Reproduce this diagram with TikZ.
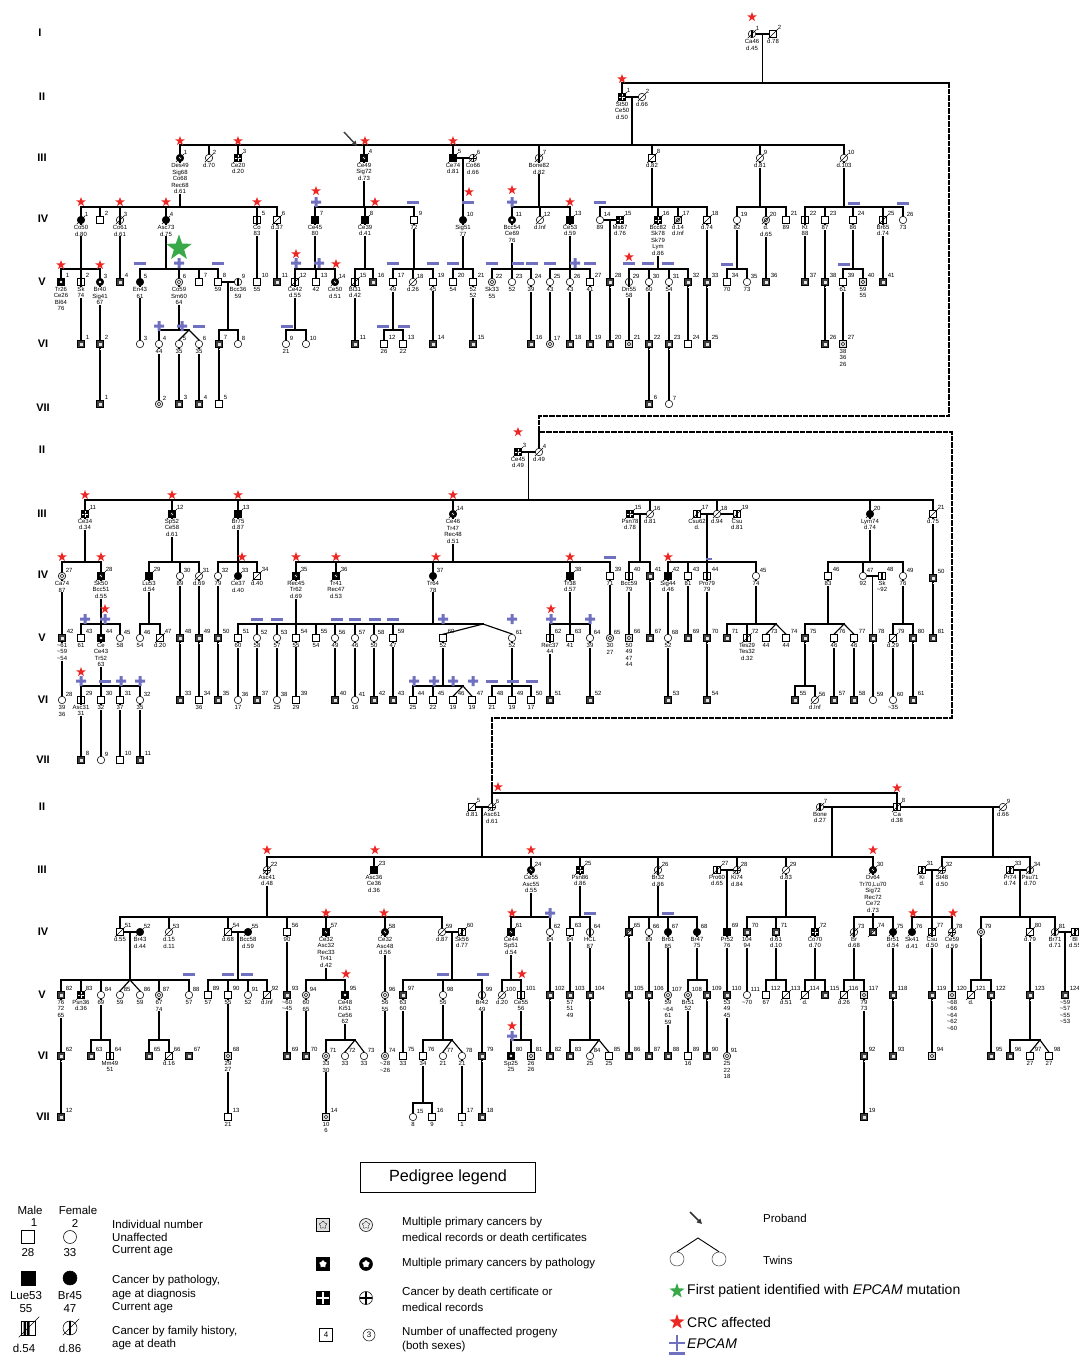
\documentclass[tikz,border=0pt]{standalone}
\usepackage{fontspec}
\setmainfont{Liberation Sans}
\usetikzlibrary{shapes.geometric,calc,arrows.meta}
\pgfdeclarelayer{bg}
\pgfsetlayers{bg,main}
\definecolor{crcred}{RGB}{236,40,36}
\definecolor{epc}{RGB}{112,112,192}
\definecolor{fgreen}{RGB}{56,168,72}
\newcommand\lf{\fontsize{6}{6.6}\selectfont}
\newcommand\ap{\textasciitilde}
\newcounter{mk}
\tikzset{
  sym/.style={draw, line width=0.55pt, inner sep=0pt, fill=white},
  qm/.style={sym, rectangle, minimum size=7pt},
  qf/.style={sym, circle, minimum size=7.5pt},
  qM/.style={qm, fill=black},
  qF/.style={qf, fill=black},
  stripe/.style={path picture={\fill[black] ([xshift=-1.3pt]path picture bounding box.north) rectangle ([xshift=1.3pt]path picture bounding box.south);}},
  qms/.style={qm, stripe},
  qfs/.style={qf, stripe},
  qmg/.style={qM, path picture={\draw[white, line width=0.7pt] (path picture bounding box.north) -- (path picture bounding box.south) (path picture bounding box.west) -- (path picture bounding box.east);}},
  qfg/.style={qf, path picture={\draw[black, line width=1pt] (path picture bounding box.north) -- (path picture bounding box.south) (path picture bounding box.west) -- (path picture bounding box.east);}},
  wdot/.style={path picture={\fill[white] (path picture bounding box.center) circle (1.4pt);}},
  qmp/.style={qM, wdot},
  qfp/.style={qF, wdot},
  rdot/.style={path picture={\draw[black, line width=0.35pt] (path picture bounding box.center) circle (1.8pt);}},
  qmr/.style={qm, fill=gray!30, rdot},
  qfr/.style={qf, fill=gray!20, rdot},
  qmn/.style={qm, fill=black!75, path picture={\fill[gray!20] ([shift={(-1.5pt,-1.5pt)}]path picture bounding box.center) rectangle ([shift={(1.5pt,1.5pt)}]path picture bounding box.center);}},
  dd/.style={append after command={(\tikzlastnode.south west) edge[line width=0.4pt, shorten <=-1.8pt, shorten >=-1.8pt] (\tikzlastnode.north east)}},
  num/.style={font=\lf, inner sep=0.2pt, anchor=west},
  lab/.style={font=\lf, align=center, inner sep=0.3pt, anchor=north, fill=white},
  crc/.style={star, star points=5, star point ratio=2.5, fill=crcred, inner sep=0pt, minimum size=10pt},
  gen/.style={font=\fontsize{11}{12}\selectfont\bfseries},
  dsh/.style={line width=1.15pt, dash pattern=on 4pt off 2.5pt},
  lt/.style={anchor=west, inner sep=0pt, font=\fontsize{11.5}{13}\selectfont},
  lc/.style={inner sep=0pt, font=\fontsize{11.5}{13}\selectfont},
}
\newcommand\pdI[6]{%
  \node[#4] (#1) at (#2,#3) {};%
  \node[num] (#1n) at ([xshift=0.6pt,yshift=2.6pt]#1.north east) {#5};%
  \node[lab] (#1l) at ([yshift=-0.7pt]#1.south) {#6};%
}
\newcommand\pdV[2]{\draw (#1.center) -- (#1.center |- 0,#2);}
\newcommand\pdN[2]{\draw (#1.center) -- (#2.center);}
\newcommand\pdS[4]{\draw (#2.center |- 0,#1) -- (#3.center |- 0,#1);\foreach \k in {#4}{\draw (\k.center) -- (\k.center |- 0,#1);}}
\newcommand\pdC[3]{\path ($(#1.center)!.5!(#2.center)$) coordinate (tmpc);\draw (#1.center) -- (#2.center) (tmpc) -- (tmpc |- 0,#3);}
\newcommand\pdR[2]{\stepcounter{mk}\node[crc] (mk\themk) at (#1,#2) {};}
\newcommand\pdP[2]{\fill[epc] ([xshift=-5pt,yshift=-1.5pt]#1,#2) rectangle ([xshift=5pt,yshift=1.5pt]#1,#2) ([xshift=-1.5pt,yshift=-5pt]#1,#2) rectangle ([xshift=1.5pt,yshift=5pt]#1,#2);}
\newcommand\pdM[2]{\fill[epc] ([xshift=-6pt,yshift=-1.5pt]#1,#2) rectangle ([xshift=6pt,yshift=1.5pt]#1,#2);}
\begin{document}
\begin{tikzpicture}[x=1pt,y=-1pt]
\useasboundingbox (0,0) rectangle (1079,1355);
% generation labels
\node[gen] (g1a) at (40,33) {I};
\node[gen] (g1b) at (42,97) {II};
\node[gen] (g1c) at (42,158) {III};
\node[gen] (g1d) at (43,219) {IV};
\node[gen] (g1e) at (42,282) {V};
\node[gen] (g1f) at (43,344) {VI};
\node[gen] (g1g) at (43,408) {VII};
\node[gen] (g2b) at (42,450) {II};
\node[gen] (g2c) at (42,514) {III};
\node[gen] (g2d) at (43,575) {IV};
\node[gen] (g2e) at (42,638) {V};
\node[gen] (g2f) at (43,700) {VI};
\node[gen] (g2g) at (43,760) {VII};
\node[gen] (g3b) at (42,807) {II};
\node[gen] (g3c) at (42,870) {III};
\node[gen] (g3d) at (43,932) {IV};
\node[gen] (g3e) at (42,995) {V};
\node[gen] (g3f) at (43,1056) {VI};
\node[gen] (g3g) at (43,1117) {VII};
% ===== Section 1 =====
\pdI{a1-1}{752}{34}{qfs,dd}{1}{Ca46\\d.45}
\pdI{a1-2}{773}{34}{qm,dd}{2}{d.78}
\pdI{a2-1}{622}{97}{qmg,dd}{1}{St50\\Ce50\\d.50}
\pdI{a2-2}{642}{97}{qf,dd}{2}{d.66}
\pdI{a3-1}{180}{158}{qfp,dd}{1}{Des49\\Sig68\\Co68\\Rec68\\d.61}
\pdI{a3-2}{209}{158}{qf,dd}{2}{d.70}
\pdI{a3-3}{238}{158}{qmg,dd}{3}{Ce20\\d.20}
\pdI{a3-4}{364}{158}{qmp,dd}{4}{Ce49\\Sig72\\d.73}
\pdI{a3-5}{453}{158}{qM,dd}{5}{Ce74\\d.81}
\pdI{a3-6}{473}{158}{qfg,dd}{6}{Co66\\d.66}
\pdI{a3-7}{539}{158}{qfs,dd}{7}{Bone82\\d.82}
\pdI{a3-8}{652}{158}{qm,dd}{8}{d.82}
\pdI{a3-9}{760}{158}{qf,dd}{9}{d.81}
\pdI{a3-10}{844}{158}{qf,dd}{10}{d.103}
\pdI{a4-1}{81}{220}{qF,dd}{1}{Co50\\d.80}
\pdI{a4-2}{100}{220}{qm}{2}{}
\pdI{a4-3}{120}{220}{qfs,dd}{3}{Co61\\d.61}
\pdI{a4-4}{166}{220}{qF,dd}{4}{Asc73\\d.75}
\pdI{a4-5}{257}{220}{qms}{5}{Co\\83}
\pdI{a4-6}{277}{220}{qm,dd}{6}{d.37}
\pdI{a4-7}{315}{220}{qM}{7}{Ce45\\80}
\pdI{a4-8}{365}{220}{qM,dd}{8}{Ce39\\d.41}
\pdI{a4-9}{414}{220}{qm}{9}{72}
\pdI{a4-10}{463}{220}{qF}{10}{Sig51\\77}
\pdI{a4-11}{512}{220}{qfp}{11}{Bcc54\\Ce69\\76}
\pdI{a4-12}{540}{220}{qf,dd}{12}{d.Inf}
\pdI{a4-13}{570}{220}{qM,dd}{13}{Ce53\\d.59}
\pdI{a4-14}{600}{220}{qf}{14}{89}
\pdI{a4-15}{620}{220}{qmg,dd}{15}{Ms67\\d.76}
\pdI{a4-16}{658}{220}{qmg,dd}{16}{Bcc82\\Sk78\\Sk79\\Lym\\d.86}
\pdI{a4-17}{678}{220}{qmr,dd}{17}{d.14\\d.Inf}
\pdI{a4-18}{707}{220}{qm,dd}{18}{d.74}
\pdI{a4-19}{737}{220}{qf}{19}{82}
\pdI{a4-20}{766}{220}{qfr,dd}{20}{d.\\d.65}
\pdI{a4-21}{786}{220}{qm}{21}{89}
\pdI{a4-22}{805}{220}{qms}{22}{Kt\\88}
\pdI{a4-23}{825}{220}{qm}{23}{87}
\pdI{a4-24}{853}{220}{qm}{24}{86}
\pdI{a4-25}{883}{220}{qms,dd}{25}{Br65\\d.74}
\pdI{a4-26}{903}{220}{qf}{26}{73}
\pdI{a5-1}{61}{282}{qmp}{1}{Tr26\\Ce26\\Bl64\\76}
\pdI{a5-2}{81}{282}{qms}{2}{Sk\\74}
\pdI{a5-3}{100}{282}{qfp}{3}{Br40\\Sig41\\67}
\pdI{a5-4}{120}{282}{qmn}{4}{}
\pdI{a5-5}{140}{282}{qF}{5}{En43\\61}
\pdI{a5-6}{179}{282}{qfr}{6}{Co59\\Sm60\\64}
\pdI{a5-7}{199}{282}{qm}{7}{}
\pdI{a5-8}{218}{282}{qm}{8}{59}
\pdI{a5-9}{238}{282}{qfs}{9}{Bcc36\\59}
\pdI{a5-10}{257}{282}{qm}{10}{55}
\pdI{a5-11}{277}{282}{qmn}{11}{}
\pdI{a5-12}{295}{282}{qms,dd}{12}{Ce42\\d.55}
\pdI{a5-13}{316}{282}{qm}{13}{42}
\pdI{a5-14}{335}{282}{qfp,dd}{14}{Ce50\\d.51}
\pdI{a5-15}{355}{282}{qms,dd}{15}{Bl31\\d.42}
\pdI{a5-16}{373}{282}{qmn}{16}{}
\pdI{a5-17}{393}{282}{qm}{17}{49}
\pdI{a5-18}{413}{282}{qf,dd}{18}{d.26}
\pdI{a5-19}{433}{282}{qm}{19}{45}
\pdI{a5-20}{453}{282}{qm}{20}{54}
\pdI{a5-21}{473}{282}{qm}{21}{52\\52}
\pdI{a5-22}{492}{282}{qfr}{22}{Sk33\\55}
\pdI{a5-23}{512}{282}{qf}{23}{52}
\pdI{a5-24}{531}{282}{qf}{24}{39}
\pdI{a5-25}{550}{282}{qf}{25}{43}
\pdI{a5-26}{570}{282}{qf}{26}{43}
\pdI{a5-27}{590}{282}{qm}{27}{41}
\pdI{a5-28}{610}{282}{qmn}{28}{}
\pdI{a5-29}{629}{282}{qfs}{29}{Dn55\\58}
\pdI{a5-30}{649}{282}{qf}{30}{60}
\pdI{a5-31}{669}{282}{qf}{31}{54}
\pdI{a5-32}{688}{282}{qmn}{32}{}
\pdI{a5-33}{707}{282}{qmn}{33}{}
\pdI{a5-34}{727}{282}{qm}{34}{70}
\pdI{a5-35}{747}{282}{qf}{35}{73}
\pdI{a5-36}{766}{282}{qmn}{36}{}
\pdI{a5-37}{805}{282}{qmn}{37}{}
\pdI{a5-38}{825}{282}{qmn}{38}{}
\pdI{a5-39}{843}{282}{qm}{39}{61}
\pdI{a5-40}{863}{282}{qmr}{40}{59\\55}
\pdI{a5-41}{883}{282}{qmn}{41}{}
\pdI{a6-1}{81}{344}{qmn}{1}{}
\pdI{a6-2}{100}{344}{qmn}{2}{}
\pdI{a6-3}{140}{344}{qf}{3}{}
\pdI{a6-4}{159}{344}{qf}{4}{44}
\pdI{a6-5}{179}{344}{qf}{5}{35}
\pdI{a6-6}{199}{344}{qf}{6}{35}
\pdI{a6-7}{219}{344}{qmn}{7}{}
\pdI{a6-8}{238}{344}{qf}{8}{}
\pdI{a6-9}{286}{344}{qf}{9}{21}
\pdI{a6-10}{306}{344}{qf}{10}{}
\pdI{a6-11}{355}{344}{qmn}{11}{}
\pdI{a6-12}{384}{344}{qm}{12}{26}
\pdI{a6-13}{403}{344}{qm}{13}{22}
\pdI{a6-14}{433}{344}{qmn}{14}{}
\pdI{a6-15}{473}{344}{qmn}{15}{}
\pdI{a6-16}{531}{344}{qmn}{16}{}
\pdI{a6-17}{550}{344}{qfr}{17}{}
\pdI{a6-18}{570}{344}{qmn}{18}{}
\pdI{a6-19}{590}{344}{qmn}{19}{}
\pdI{a6-20}{610}{344}{qmn}{20}{}
\pdI{a6-21}{629}{344}{qmr}{21}{}
\pdI{a6-22}{649}{344}{qmn}{22}{}
\pdI{a6-23}{669}{344}{qmn}{23}{}
\pdI{a6-24}{688}{344}{qm}{24}{}
\pdI{a6-25}{707}{344}{qmn}{25}{}
\pdI{a6-26}{825}{344}{qmn}{26}{}
\pdI{a6-27}{843}{344}{qmr}{27}{38\\36\\26}
\pdI{a7-1}{100}{404}{qmn}{1}{}
\pdI{a7-2}{159}{404}{qfr}{2}{}
\pdI{a7-3}{179}{404}{qmn}{3}{}
\pdI{a7-4}{199}{404}{qmn}{4}{}
\pdI{a7-5}{219}{404}{qm}{5}{}
\pdI{a7-6}{649}{404}{qmn}{6}{}
\pdI{a7-7}{669}{404}{qf}{7}{}
% ===== Section 2 =====
\pdI{b2-3}{518}{452}{qmg,dd}{3}{Ce45\\d.49}
\pdI{b2-4}{539}{452}{qf,dd}{4}{d.49}
\pdI{b3-11}{85}{514}{qmg,dd}{11}{Ce34\\d.34}
\pdI{b3-12}{172}{514}{qmp,dd}{12}{Sp52\\Ce58\\d.61}
\pdI{b3-13}{238}{514}{qM,dd}{13}{Br75\\d.87}
\pdI{b3-14}{453}{514}{qfp,dd}{14}{Ce46\\Tr47\\Rec48\\d.51}
\pdI{b3-15}{630}{514}{qmg,dd}{15}{Psn78\\d.78}
\pdI{b3-16}{650}{514}{qf,dd}{16}{d.81}
\pdI{b3-17}{697}{514}{qms,dd}{17}{Csu62\\d.}
\pdI{b3-18}{717}{514}{qf,dd}{18}{d.94}
\pdI{b3-19}{737}{514}{qms,dd}{19}{Csu\\d.81}
\pdI{b3-20}{870}{514}{qF,dd}{20}{Lym74\\d.74}
\pdI{b3-21}{933}{514}{qm,dd}{21}{d.75}
\pdI{b4-27}{62}{576}{qfr}{27}{Ca74\\87}
\pdI{b4-28}{101}{576}{qmp,dd}{28}{Sk50\\Bcc51\\d.55}
\pdI{b4-29}{149}{576}{qM,dd}{29}{Lu53\\d.54}
\pdI{b4-30}{180}{576}{qf}{30}{89}
\pdI{b4-31}{199}{576}{qf,dd}{31}{d.69}
\pdI{b4-32}{218}{576}{qf}{32}{79}
\pdI{b4-33}{238}{576}{qF,dd}{33}{Ce37\\d.40}
\pdI{b4-34}{257}{576}{qm,dd}{34}{d.40}
\pdI{b4-35}{296}{576}{qmp,dd}{35}{Rec45\\Tr62\\d.69}
\pdI{b4-36}{336}{576}{qmp,dd}{36}{Tr41\\Rec47\\d.53}
\pdI{b4-37}{433}{576}{qF}{37}{Tr64\\78}
\pdI{b4-38}{570}{576}{qM,dd}{38}{Tr38\\d.57}
\pdI{b4-39}{610}{576}{qm}{39}{71}
\pdI{b4-40}{629}{576}{qms}{40}{Bcc59\\79}
\pdI{b4-41}{650}{576}{qmn}{41}{}
\pdI{b4-42}{668}{576}{qM,dd}{42}{Sig44\\d.46}
\pdI{b4-43}{688}{576}{qm}{43}{81}
\pdI{b4-44}{707}{576}{qms}{44}{Pro79\\79}
\pdI{b4-45}{756}{576}{qf}{45}{74}
\pdI{b4-46}{828}{576}{qm}{46}{83}
\pdI{b4-47}{863}{576}{qf}{47}{92}
\pdI{b4-48}{882}{576}{qms}{48}{Sk\\\ap92}
\pdI{b4-49}{903}{576}{qf}{49}{76}
\pdI{b4-50}{933}{578}{qmn}{50}{}
\pdI{b5-42}{62}{638}{qmn}{42}{\ap61\\\ap59\\\ap54}
\pdI{b5-43}{81}{638}{qm}{43}{61}
\pdI{b5-44}{101}{638}{qmp}{44}{Ce\\Ce43\\Tr52\\63}
\pdI{b5-45}{120}{638}{qf}{45}{58}
\pdI{b5-46}{140}{638}{qf}{46}{54}
\pdI{b5-47}{160}{638}{qm,dd}{47}{d.20}
\pdI{b5-48}{180}{638}{qmn}{48}{}
\pdI{b5-49}{199}{638}{qmn}{49}{}
\pdI{b5-50}{218}{638}{qmn}{50}{}
\pdI{b5-51}{238}{638}{qm}{51}{60}
\pdI{b5-52}{257}{638}{qf}{52}{58}
\pdI{b5-53}{277}{638}{qf}{53}{57}
\pdI{b5-54}{296}{638}{qm}{54}{55}
\pdI{b5-55}{316}{638}{qm}{55}{54}
\pdI{b5-56}{335}{638}{qf}{56}{49}
\pdI{b5-57}{355}{638}{qf}{57}{46}
\pdI{b5-58}{374}{638}{qf}{58}{50}
\pdI{b5-59}{393}{638}{qm}{59}{47}
\pdI{b5-60}{443}{638}{qm}{60}{52}
\pdI{b5-61}{512}{638}{qf}{61}{52}
\pdI{b5-62}{550}{638}{qms}{62}{Rec37\\44}
\pdI{b5-63}{570}{638}{qm}{63}{41}
\pdI{b5-64}{590}{638}{qf}{64}{39}
\pdI{b5-65}{610}{638}{qfr}{65}{30\\27}
\pdI{b5-66}{629}{638}{qmr}{66}{50\\49\\47\\44}
\pdI{b5-67}{650}{638}{qmn}{67}{}
\pdI{b5-68}{668}{638}{qf}{68}{52}
\pdI{b5-69}{688}{638}{qmn}{69}{}
\pdI{b5-70}{707}{638}{qmn}{70}{}
\pdI{b5-71}{727}{638}{qmn}{71}{}
\pdI{b5-72}{747}{638}{qms,dd}{72}{Tes29\\Tes32\\d.32}
\pdI{b5-73}{766}{638}{qm}{73}{44}
\pdI{b5-74}{786}{638}{qm}{74}{44}
\pdI{b5-75}{805}{638}{qmn}{75}{}
\pdI{b5-76}{834}{638}{qm}{76}{46}
\pdI{b5-77}{854}{638}{qm}{77}{46}
\pdI{b5-78}{873}{638}{qmn}{78}{}
\pdI{b5-79}{893}{638}{qm,dd}{79}{d.29}
\pdI{b5-80}{913}{638}{qmn}{80}{}
\pdI{b5-81}{933}{638}{qmn}{81}{}
\pdI{b6-28}{62}{700}{qf}{28}{39\\36}
\pdI{b6-29}{81}{700}{qms}{29}{Asc31\\31}
\pdI{b6-30}{101}{700}{qm}{30}{32}
\pdI{b6-31}{120}{700}{qm}{31}{37}
\pdI{b6-32}{140}{700}{qf}{32}{35}
\pdI{b6-33}{180}{700}{qmn}{33}{}
\pdI{b6-34}{199}{700}{qm}{34}{36}
\pdI{b6-35}{218}{700}{qmn}{35}{}
\pdI{b6-36}{238}{700}{qf}{36}{17}
\pdI{b6-37}{257}{700}{qmn}{37}{}
\pdI{b6-38}{277}{700}{qf}{38}{25}
\pdI{b6-39}{296}{700}{qm}{39}{29}
\pdI{b6-40}{335}{700}{qmn}{40}{}
\pdI{b6-41}{355}{700}{qf}{41}{16}
\pdI{b6-42}{374}{700}{qmn}{42}{}
\pdI{b6-43}{393}{700}{qmn}{43}{}
\pdI{b6-44}{413}{700}{qm}{44}{25}
\pdI{b6-45}{433}{700}{qm}{45}{22}
\pdI{b6-46}{453}{700}{qm}{46}{19}
\pdI{b6-47}{472}{700}{qm}{47}{19}
\pdI{b6-48}{492}{700}{qm}{48}{21}
\pdI{b6-49}{512}{700}{qm}{49}{19}
\pdI{b6-50}{531}{700}{qm}{50}{17}
\pdI{b6-51}{550}{700}{qmn}{51}{}
\pdI{b6-52}{590}{700}{qmn}{52}{}
\pdI{b6-53}{668}{700}{qmn}{53}{}
\pdI{b6-54}{707}{700}{qmn}{54}{}
\pdI{b6-55}{795}{700}{qmn}{55}{}
\pdI{b6-56}{815}{700}{qf,dd}{56}{d.Inf}
\pdI{b6-57}{834}{700}{qmn}{57}{}
\pdI{b6-58}{854}{700}{qmn}{58}{}
\pdI{b6-59}{873}{700}{qf}{59}{}
\pdI{b6-60}{893}{700}{qf}{60}{\ap35}
\pdI{b6-61}{913}{700}{qmn}{61}{}
\pdI{b7-8}{81}{760}{qmn}{8}{}
\pdI{b7-9}{101}{760}{qf}{9}{}
\pdI{b7-10}{120}{760}{qm}{10}{}
\pdI{b7-11}{140}{760}{qmn}{11}{}
% ===== Section 3 =====
\pdI{c2-5}{472}{807}{qm,dd}{5}{d.81}
\pdI{c2-6}{492}{807}{qfg,dd}{6}{Asc61\\d.61}
\pdI{c2-7}{820}{807}{qfs,dd}{7}{Bone\\d.27}
\pdI{c2-8}{897}{807}{qms,dd}{8}{Ca\\d.38}
\pdI{c2-9}{1003}{807}{qf,dd}{9}{d.66}
\pdI{c3-22}{267}{870}{qfg,dd}{22}{Asc41\\d.48}
\pdI{c3-23}{374}{870}{qM,dd}{23}{Asc36\\Ce36\\d.36}
\pdI{c3-24}{531}{870}{qfp,dd}{24}{Ce55\\Asc55\\d.55}
\pdI{c3-25}{580}{870}{qmg,dd}{25}{Psn86\\d.86}
\pdI{c3-26}{658}{870}{qfs,dd}{26}{Br32\\d.86}
\pdI{c3-27}{717}{870}{qms,dd}{27}{Pro60\\d.65}
\pdI{c3-28}{737}{870}{qfg,dd}{28}{Ki74\\d.84}
\pdI{c3-29}{786}{870}{qf,dd}{29}{d.83}
\pdI{c3-30}{873}{870}{qfp,dd}{30}{Dv64\\Tr70,Lu70\\Sig72\\Rec72\\Ce72\\d.73}
\pdI{c3-31}{922}{870}{qms,dd}{31}{Ki\\d.}
\pdI{c3-32}{942}{870}{qfg,dd}{32}{St48\\d.50}
\pdI{c3-33}{1010}{870}{qms,dd}{33}{Pr74\\d.74}
\pdI{c3-34}{1030}{870}{qfs,dd}{34}{Psu71\\d.70}
\pdI{c4-51}{120}{932}{qm,dd}{51}{d.55}
\pdI{c4-52}{140}{932}{qF,dd}{52}{Br43\\d.44}
\pdI{c4-53}{169}{932}{qf,dd}{53}{d.15\\d.11}
\pdI{c4-54}{228}{932}{qm,dd}{54}{d.68}
\pdI{c4-55}{248}{932}{qF,dd}{55}{Bcc58\\d.59}
\pdI{c4-56}{287}{932}{qm}{56}{90}
\pdI{c4-57}{326}{932}{qmp,dd}{57}{Ce32\\Asc32\\Rec33\\Tr41\\d.42}
\pdI{c4-58}{385}{932}{qfp,dd}{58}{Ce32\\Asc48\\d.56}
\pdI{c4-59}{442}{932}{qf,dd}{59}{d.87}
\pdI{c4-60}{462}{932}{qms,dd}{60}{Sk56\\d.77}
\pdI{c4-61}{511}{932}{qmp,dd}{61}{Ce44\\Sp51\\d.54}
\pdI{c4-62}{550}{932}{qf}{62}{84}
\pdI{c4-63}{570}{932}{qm}{63}{84}
\pdI{c4-64}{590}{932}{qfs}{64}{HCL\\87}
\pdI{c4-65}{629}{932}{qmn,dd}{65}{}
\pdI{c4-66}{649}{932}{qf}{66}{89}
\pdI{c4-67}{668}{932}{qF}{67}{Br61\\85}
\pdI{c4-68}{697}{932}{qF}{68}{Br47\\75}
\pdI{c4-69}{727}{932}{qM}{69}{Pr52\\76}
\pdI{c4-70}{747}{932}{qmn}{70}{104\\94}
\pdI{c4-71}{776}{932}{qmn}{71}{d.61\\d.10}
\pdI{c4-72}{815}{932}{qmg,dd}{72}{Co70\\d.70}
\pdI{c4-73}{854}{932}{qfs,dd}{73}{Br\\d.68}
\pdI{c4-74}{873}{932}{qmn,dd}{74}{}
\pdI{c4-75}{893}{932}{qF,dd}{75}{Br51\\d.54}
\pdI{c4-76}{912}{932}{qF,dd}{76}{Sk41\\d.41}
\pdI{c4-77}{932}{932}{qms,dd}{77}{Csu\\d.50}
\pdI{c4-78}{952}{932}{qfg,dd}{78}{Ce59\\d.59}
\pdI{c4-79}{981}{932}{qfr}{79}{}
\pdI{c4-80}{1030}{932}{qm,dd}{80}{d.79}
\pdI{c4-81}{1055}{932}{qfs,dd}{81}{Br71\\d.71}
\pdI{c4-82}{1075}{932}{qms,dd}{82}{Bl\\d.55}
\pdI{c5-82}{61}{995}{qmn}{82}{76\\72\\65}
\pdI{c5-83}{81}{995}{qmg,dd}{83}{Psn36\\d.36}
\pdI{c5-84}{101}{995}{qf}{84}{69}
\pdI{c5-85}{120}{995}{qf}{85}{59}
\pdI{c5-86}{140}{995}{qf}{86}{59}
\pdI{c5-87}{159}{995}{qfr}{87}{67\\74}
\pdI{c5-88}{189}{995}{qf}{88}{57}
\pdI{c5-89}{208}{995}{qm}{89}{57}
\pdI{c5-90}{228}{995}{qm}{90}{55}
\pdI{c5-91}{248}{995}{qf}{91}{52}
\pdI{c5-92}{267}{995}{qm,dd}{92}{d.Inf}
\pdI{c5-93}{287}{995}{qmn}{93}{\ap60\\\ap45}
\pdI{c5-94}{306}{995}{qfr}{94}{60\\65}
\pdI{c5-95}{345}{995}{qmp}{95}{Ce48\\Ki51\\Ce56\\62}
\pdI{c5-96}{385}{995}{qfr}{96}{56\\55}
\pdI{c5-97}{403}{995}{qmn}{97}{63\\60}
\pdI{c5-98}{443}{995}{qf}{98}{56}
\pdI{c5-99}{482}{995}{qfs}{99}{Br42\\49}
\pdI{c5-100}{502}{995}{qf,dd}{100}{d.20}
\pdI{c5-101}{521}{995}{qms}{101}{Ce55\\56}
\pdI{c5-102}{550}{995}{qmn}{102}{}
\pdI{c5-103}{570}{995}{qmn}{103}{57\\51\\49}
\pdI{c5-104}{590}{995}{qmn}{104}{}
\pdI{c5-105}{629}{995}{qmn}{105}{}
\pdI{c5-106}{649}{995}{qmn}{106}{}
\pdI{c5-107}{668}{995}{qfr}{107}{59\\\ap64\\61\\59}
\pdI{c5-108}{688}{995}{qfr}{108}{Br51\\52}
\pdI{c5-109}{707}{995}{qmn}{109}{}
\pdI{c5-110}{727}{995}{qmn}{110}{53\\49\\45}
\pdI{c5-111}{747}{995}{qf}{111}{\ap70}
\pdI{c5-112}{766}{995}{qm}{112}{67}
\pdI{c5-113}{786}{995}{qm,dd}{113}{d.51}
\pdI{c5-114}{805}{995}{qm,dd}{114}{d.}
\pdI{c5-115}{825}{995}{qmn}{115}{}
\pdI{c5-116}{844}{995}{qm,dd}{116}{d.26}
\pdI{c5-117}{864}{995}{qmr}{117}{79\\73}
\pdI{c5-118}{893}{995}{qmn}{118}{}
\pdI{c5-119}{932}{995}{qmn}{119}{}
\pdI{c5-120}{952}{995}{qmr}{120}{\ap68\\\ap66\\\ap64\\\ap62\\\ap60}
\pdI{c5-121}{971}{995}{qm,dd}{121}{d.}
\pdI{c5-122}{991}{995}{qmn}{122}{}
\pdI{c5-123}{1030}{995}{qmn}{123}{}
\pdI{c5-124}{1065}{995}{qmn}{124}{\ap59\\\ap57\\\ap55\\\ap53}
\pdI{c6-62}{61}{1056}{qmn}{62}{}
\pdI{c6-63}{91}{1056}{qmn}{63}{}
\pdI{c6-64}{110}{1056}{qms}{64}{Mm49\\51}
\pdI{c6-65}{149}{1056}{qmn}{65}{}
\pdI{c6-66}{169}{1056}{qm,dd}{66}{d.16}
\pdI{c6-67}{189}{1056}{qmn}{67}{}
\pdI{c6-68}{228}{1056}{qmr}{68}{29\\27}
\pdI{c6-69}{287}{1056}{qmn}{69}{}
\pdI{c6-70}{306}{1056}{qmn}{70}{}
\pdI{c6-71}{326}{1056}{qfr}{71}{33\\30}
\pdI{c6-72}{345}{1056}{qf}{72}{33}
\pdI{c6-73}{364}{1056}{qf}{73}{33}
\pdI{c6-74}{385}{1056}{qfr}{74}{\ap28\\\ap26}
\pdI{c6-75}{403}{1056}{qm}{75}{33}
\pdI{c6-76}{423}{1056}{qm}{76}{34}
\pdI{c6-77}{443}{1056}{qf}{77}{21}
\pdI{c6-78}{462}{1056}{qf}{78}{21}
\pdI{c6-79}{482}{1056}{qmn}{79}{}
\pdI{c6-80}{511}{1056}{qmp}{80}{Sp25\\25}
\pdI{c6-81}{531}{1056}{qmr}{81}{26\\26}
\pdI{c6-82}{550}{1056}{qmn}{82}{}
\pdI{c6-83}{570}{1056}{qmn}{83}{}
\pdI{c6-84}{590}{1056}{qf}{84}{25}
\pdI{c6-85}{609}{1056}{qm}{85}{25}
\pdI{c6-86}{629}{1056}{qmn}{86}{}
\pdI{c6-87}{649}{1056}{qmn}{87}{}
\pdI{c6-88}{668}{1056}{qmn}{88}{}
\pdI{c6-89}{688}{1056}{qm}{89}{16}
\pdI{c6-90}{707}{1056}{qmn}{90}{}
\pdI{c6-91}{727}{1056}{qfr}{91}{25\\22\\18}
\pdI{c6-92}{864}{1056}{qmn}{92}{}
\pdI{c6-93}{893}{1056}{qmn}{93}{}
\pdI{c6-94}{932}{1056}{qmr}{94}{}
\pdI{c6-95}{991}{1056}{qmn}{95}{}
\pdI{c6-96}{1010}{1056}{qmn}{96}{}
\pdI{c6-97}{1030}{1056}{qm}{97}{27}
\pdI{c6-98}{1049}{1056}{qm}{98}{27}
\pdI{c7-12}{61}{1117}{qmn}{12}{}
\pdI{c7-13}{228}{1117}{qm}{13}{21}
\pdI{c7-14}{326}{1117}{qmr}{14}{10\\6}
\pdI{c7-15}{413}{1117}{qf}{15}{8}
\pdI{c7-16}{432}{1117}{qm}{16}{9}
\pdI{c7-17}{462}{1117}{qm}{17}{1}
\pdI{c7-18}{482}{1117}{qmn}{18}{}
\pdI{c7-19}{864}{1117}{qmn}{19}{}
% ===== lines =====
\begin{pgfonlayer}{bg}
\begin{scope}[line width=1.15pt, line cap=rect]
% section 1
\pdC{a1-1}{a1-2}{83}
\draw (a2-1.center |- 0,83) -- (949,83);
\pdV{a2-1}{83}
\pdC{a2-1}{a2-2}{145}
\pdS{145}{a3-1}{a3-10}{a3-1,a3-2,a3-3,a3-4,a3-5,a3-7,a3-8,a3-9,a3-10}
\pdV{a3-1}{207}
\pdS{207}{a4-1}{a4-6}{a4-1,a4-2,a4-3,a4-4,a4-5,a4-6}
\pdV{a3-4}{207}
\pdS{207}{a4-7}{a4-9}{a4-7,a4-8,a4-9}
\pdC{a3-5}{a3-6}{220}
\pdV{a3-7}{207}
\pdS{207}{a4-11}{a4-13}{a4-11,a4-12,a4-13}
\pdV{a3-8}{207}
\pdS{207}{a4-14}{a4-18}{a4-14,a4-16,a4-17,a4-18}
\pdV{a3-9}{207}
\pdS{207}{a4-19}{a4-21}{a4-19,a4-20,a4-21}
\pdV{a3-10}{207}
\pdS{207}{a4-22}{a4-26}{a4-22,a4-23,a4-24,a4-25,a4-26}
\pdV{a4-1}{269}
\pdS{269}{a5-1}{a5-3}{a5-1,a5-2,a5-3}
\pdN{a4-3}{a5-4}
\pdV{a4-4}{269}
\pdS{269}{a5-5}{a5-8}{a5-5,a5-6,a5-7,a5-8}
\pdN{a4-5}{a5-10}
\pdN{a4-6}{a5-11}
\pdV{a4-7}{269}
\pdS{269}{a5-12}{a5-14}{a5-12,a5-13,a5-14}
\pdV{a4-8}{269}
\pdS{269}{a5-15}{a5-16}{a5-15,a5-16}
\pdV{a4-9}{269}
\pdS{269}{a5-17}{a5-19}{a5-17,a5-18,a5-19}
\pdV{a4-10}{269}
\pdS{269}{a5-20}{a5-21}{a5-20,a5-21}
\pdV{a4-11}{269}
\pdS{269}{a5-22}{a5-24}{a5-22,a5-23,a5-24}
\pdV{a4-13}{269}
\pdS{269}{a5-25}{a5-27}{a5-25,a5-26,a5-27}
\pdC{a4-14}{a4-15}{282}
\pdV{a4-16}{269}
\pdS{269}{a5-29}{a5-32}{a5-29,a5-30,a5-31,a5-32}
\pdN{a4-18}{a5-33}
\pdV{a4-19}{269}
\pdS{269}{a5-34}{a5-35}{a5-34,a5-35}
\pdN{a4-20}{a5-36}
\pdN{a4-22}{a5-37}
\pdN{a4-23}{a5-38}
\pdV{a4-24}{269}
\pdS{269}{a5-39}{a5-40}{a5-39,a5-40}
\pdN{a4-25}{a5-41}
\pdN{a5-2}{a6-1}
\pdN{a5-3}{a6-2}
\pdN{a5-5}{a6-3}
\pdV{a5-6}{330}
\draw (a6-4.center |- 0,330) -- (189,330);
\pdV{a6-4}{330}
\draw (a6-5.north) -- (189,330) -- (a6-6.north);
\pdC{a5-8}{a5-9}{330}
\pdS{330}{a6-7}{a6-8}{a6-7,a6-8}
\pdV{a5-12}{330}
\pdS{330}{a6-9}{a6-10}{a6-9,a6-10}
\pdN{a5-15}{a6-11}
\pdV{a5-17}{330}
\pdS{330}{a6-12}{a6-13}{a6-12,a6-13}
\pdN{a5-19}{a6-14}
\pdN{a5-21}{a6-15}
\pdN{a5-24}{a6-16}
\pdN{a5-25}{a6-17}
\pdN{a5-26}{a6-18}
\pdN{a5-27}{a6-19}
\pdN{a5-28}{a6-20}
\pdN{a5-29}{a6-21}
\pdN{a5-30}{a6-22}
\pdN{a5-31}{a6-23}
\pdN{a5-32}{a6-24}
\pdN{a5-33}{a6-25}
\pdN{a5-38}{a6-26}
\pdN{a5-39}{a6-27}
\pdN{a6-2}{a7-1}
\pdN{a6-4}{a7-2}
\pdN{a6-5}{a7-3}
\pdN{a6-6}{a7-4}
\pdN{a6-7}{a7-5}
\pdN{a6-22}{a7-6}
\pdN{a6-23}{a7-7}
% dashed links
\draw[dsh] (949,83) -- (949,416) -- (b2-4.center |- 0,416) -- (b2-4.center |- 0,432) -- (952,432) -- (952,718) -- (c2-6.center |- 0,718) -- (c2-6.center |- 0,783);
\draw (b2-4.center |- 0,432) -- (b2-4.center);
\draw (c2-6.center |- 0,783) -- (c2-6.center);
% section 2
\pdC{b2-3}{b2-4}{500}
\pdS{500}{b3-11}{b3-21}{b3-11,b3-12,b3-13,b3-14,b3-16,b3-18,b3-20,b3-21}
\pdV{b3-11}{562}
\pdS{562}{b4-27}{b4-28}{b4-27,b4-28}
\pdV{b3-12}{562}
\pdS{562}{b4-29}{b4-31}{b4-29,b4-30,b4-31}
\pdV{b3-13}{562}
\pdS{562}{b4-32}{b4-34}{b4-32,b4-33,b4-34}
\pdV{b3-14}{562}
\pdS{562}{b4-35}{b4-39}{b4-35,b4-36,b4-37,b4-38,b4-39}
\pdC{b3-15}{b3-16}{562}
\pdS{562}{b4-40}{b4-41}{b4-40,b4-41}
\pdC{b3-17}{b3-18}{562}
\pdN{b3-18}{b3-19}
\pdS{562}{b4-42}{b4-45}{b4-42,b4-43,b4-44,b4-45}
\pdV{b3-20}{562}
\pdS{562}{b4-46}{b4-49}{b4-46,b4-47,b4-49}
\pdN{b4-47}{b4-48}
\pdN{b3-21}{b4-50}
\pdN{b4-27}{b5-42}
\pdV{b4-28}{624}
\pdS{624}{b5-43}{b5-45}{b5-43,b5-44,b5-45}
\pdV{b4-29}{624}
\pdS{624}{b5-46}{b5-47}{b5-46,b5-47}
\pdN{b4-30}{b5-48}
\pdN{b4-31}{b5-49}
\pdN{b4-32}{b5-50}
\pdV{b4-35}{624}
\pdV{b4-37}{624}
\draw (b5-51.center |- 0,624) -- (483,624);
\foreach \k in {b5-51,b5-52,b5-53,b5-54,b5-55,b5-56,b5-57,b5-58,b5-59}{\draw (\k.center) -- (\k.center |- 0,624);}
\draw (b5-60.north) -- (483,624) -- (b5-61.north);
\pdV{b4-38}{624}
\pdS{624}{b5-62}{b5-64}{b5-62,b5-63,b5-64}
\pdN{b4-39}{b5-65}
\pdN{b4-40}{b5-66}
\pdN{b4-41}{b5-67}
\pdN{b4-42}{b5-68}
\pdN{b4-43}{b5-69}
\pdN{b4-44}{b5-70}
\pdV{b4-45}{624}
\draw (b5-71.center |- 0,624) -- (776,624);
\pdV{b5-71}{624}
\pdV{b5-72}{624}
\draw (b5-73.north) -- (776,624) -- (b5-74.north);
\pdV{b4-46}{624}
\draw (b5-75.center |- 0,624) -- (844,624);
\pdV{b5-75}{624}
\draw (b5-76.north) -- (844,624) -- (b5-77.north);
\pdC{b4-47}{b4-48}{638}
\pdV{b4-49}{624}
\pdS{624}{b5-79}{b5-80}{b5-79,b5-80}
\pdN{b4-50}{b5-81}
\pdN{b5-42}{b6-28}
\pdV{b5-44}{686}
\pdS{686}{b6-29}{b6-32}{b6-29,b6-30,b6-31,b6-32}
\pdN{b5-48}{b6-33}
\pdN{b5-49}{b6-34}
\pdN{b5-50}{b6-35}
\pdN{b5-51}{b6-36}
\pdN{b5-52}{b6-37}
\pdN{b5-53}{b6-38}
\pdN{b5-54}{b6-39}
\pdN{b5-56}{b6-40}
\pdN{b5-57}{b6-41}
\pdN{b5-58}{b6-42}
\pdN{b5-59}{b6-43}
\pdV{b5-60}{686}
\draw (b6-44.center |- 0,686) -- (463,686);
\pdV{b6-44}{686}
\pdV{b6-45}{686}
\draw (b6-46.north) -- (463,686) -- (b6-47.north);
\pdV{b5-61}{686}
\pdS{686}{b6-48}{b6-50}{b6-48,b6-49,b6-50}
\pdN{b5-62}{b6-51}
\pdN{b5-64}{b6-52}
\pdN{b5-68}{b6-53}
\pdN{b5-70}{b6-54}
\pdV{b5-75}{686}
\pdS{686}{b6-55}{b6-56}{b6-55,b6-56}
\pdN{b5-76}{b6-57}
\pdN{b5-77}{b6-58}
\pdN{b5-78}{b6-59}
\pdN{b5-79}{b6-60}
\pdN{b5-80}{b6-61}
\pdN{b6-29}{b7-8}
\pdN{b6-30}{b7-9}
\pdN{b6-31}{b7-10}
\pdN{b6-32}{b7-11}
% section 3
\draw (c2-6.center |- 0,793) -- (c2-8.center |- 0,793);
\pdV{c2-8}{793}
\pdC{c2-5}{c2-6}{857}
\pdN{c2-7}{c2-9}
\draw (832,807) -- (832,857);
\draw (993,807) -- (993,857);
\pdS{857}{c3-22}{c3-30}{c3-22,c3-23,c3-24,c3-25,c3-26,c3-28,c3-29,c3-30}
\pdS{857}{c3-32}{c3-34}{c3-32,c3-34}
\pdC{c3-27}{c3-28}{932}
\pdC{c3-31}{c3-32}{917}
\pdC{c3-33}{c3-34}{917}
\pdV{c3-22}{917}
\pdS{917}{c4-51}{c4-59}{c4-51,c4-53,c4-54,c4-56,c4-57,c4-58,c4-59}
\pdC{c4-51}{c4-52}{980}
\pdC{c4-54}{c4-55}{980}
\pdC{c4-59}{c4-60}{980}
\pdV{c3-24}{917}
\pdS{917}{c4-61}{c4-62}{c4-61,c4-62}
\pdV{c3-25}{917}
\pdS{917}{c4-63}{c4-64}{c4-63,c4-64}
\pdV{c3-26}{917}
\pdS{917}{c4-65}{c4-68}{c4-65,c4-66,c4-67,c4-68}
\pdV{c3-29}{917}
\pdS{917}{c4-70}{c4-72}{c4-70,c4-71,c4-72}
\pdV{c3-30}{917}
\pdS{917}{c4-73}{c4-75}{c4-73,c4-74,c4-75}
\pdS{917}{c4-76}{c4-78}{c4-76,c4-77,c4-78}
\pdS{917}{c4-79}{c4-81}{c4-79,c4-80,c4-81}
\pdN{c4-81}{c4-82}
\draw (c5-82.center |- 0,980) -- (c5-88.center |- 0,980);
\foreach \k in {c5-82,c5-83,c5-84,c5-87,c5-88}{\draw (\k.center) -- (\k.center |- 0,980);}
\draw (c5-85.north) -- (130,980) -- (c5-86.north);
\pdS{980}{c5-89}{c5-92}{c5-89,c5-90,c5-91,c5-92}
\pdN{c4-56}{c5-93}
\pdV{c4-57}{980}
\pdS{980}{c5-94}{c5-95}{c5-94,c5-95}
\pdN{c4-58}{c5-96}
\pdS{980}{c5-97}{c5-99}{c5-97,c5-98,c5-99}
\pdV{c4-61}{980}
\pdS{980}{c5-100}{c5-101}{c5-100,c5-101}
\pdN{c4-62}{c5-102}
\pdN{c4-63}{c5-103}
\pdN{c4-64}{c5-104}
\pdN{c4-65}{c5-105}
\pdN{c4-66}{c5-106}
\pdN{c4-67}{c5-107}
\pdV{c4-68}{980}
\pdS{980}{c5-108}{c5-109}{c5-108,c5-109}
\pdN{c4-69}{c5-110}
\pdN{c4-70}{c5-111}
\pdV{c4-71}{980}
\pdS{980}{c5-112}{c5-113}{c5-112,c5-113}
\pdV{c4-72}{980}
\pdS{980}{c5-114}{c5-115}{c5-114,c5-115}
\pdV{c4-73}{980}
\pdS{980}{c5-116}{c5-117}{c5-116,c5-117}
\pdN{c4-75}{c5-118}
\pdN{c4-77}{c5-119}
\pdN{c4-78}{c5-120}
\pdV{c4-79}{980}
\pdS{980}{c5-121}{c5-122}{c5-121,c5-122}
\pdN{c4-80}{c5-123}
\pdC{c4-81}{c4-82}{995}
\pdN{c5-82}{c6-62}
\pdV{c5-84}{1040}
\pdS{1040}{c6-63}{c6-64}{c6-63,c6-64}
\pdV{c5-87}{1040}
\pdS{1040}{c6-65}{c6-66}{c6-65,c6-66}
\pdN{c5-90}{c6-68}
\pdN{c5-93}{c6-69}
\pdN{c5-94}{c6-70}
\pdV{c5-95}{1040}
\draw (c6-71.center |- 0,1040) -- (355,1040);
\pdV{c6-71}{1040}
\draw (c6-72.north) -- (355,1040) -- (c6-73.north);
\pdN{c5-96}{c6-74}
\pdN{c5-97}{c6-75}
\pdV{c5-98}{1040}
\draw (c6-76.center |- 0,1040) -- (452,1040);
\pdV{c6-76}{1040}
\draw (c6-77.north) -- (452,1040) -- (c6-78.north);
\pdN{c5-99}{c6-79}
\pdV{c5-101}{1040}
\pdS{1040}{c6-80}{c6-81}{c6-80,c6-81}
\pdN{c5-102}{c6-82}
\pdV{c5-104}{1040}
\draw (c6-83.center |- 0,1040) -- (599,1040);
\pdV{c6-83}{1040}
\draw (c6-84.north) -- (599,1040) -- (c6-85.north);
\pdN{c5-105}{c6-86}
\pdN{c5-106}{c6-87}
\pdN{c5-107}{c6-88}
\pdN{c5-108}{c6-89}
\pdN{c5-109}{c6-90}
\pdN{c5-110}{c6-91}
\pdN{c5-117}{c6-92}
\pdN{c5-118}{c6-93}
\pdN{c5-119}{c6-94}
\pdN{c5-122}{c6-95}
\pdV{c5-123}{1040}
\draw (c6-96.center |- 0,1040) -- (1040,1040);
\pdV{c6-96}{1040}
\draw (c6-97.north) -- (1040,1040) -- (c6-98.north);
\pdN{c6-62}{c7-12}
\pdN{c6-68}{c7-13}
\pdN{c6-71}{c7-14}
\pdV{c6-76}{1103}
\pdS{1103}{c7-15}{c7-16}{c7-15,c7-16}
\pdN{c6-78}{c7-17}
\pdN{c6-79}{c7-18}
\pdN{c6-92}{c7-19}
\end{scope}
\end{pgfonlayer}
% ===== marks =====
\foreach \x/\y in {752/17,622/79,180/141,238/141,365/141,453/141,81/202,120/202,166/202,257/202,316/191,375/202,469/192,512/190,570/202,61/265,100/265,296/254,336/264,629/257,
518/432,85/495,172/495,238/495,453/495,62/557,101/557,242/557,296/557,336/557,436/557,570/557,668/557,105/609,551/609,81/672,
498/787,897/788,267/850,375/850,531/850,873/850,326/913,384/913,512/913,913/913,953/913,346/974,522/974,512/1026}{\pdR{\x}{\y}}
\foreach \x/\y in {316/202,512/202,179/263,296/263,319/263,575/263,159/326,182/326,
85/619,105/619,443/619,512/619,551/619,590/619,81/681,121/681,140/681,414/681,434/681,453/681,473/681,
550/913,512/1036}{\pdP{\x}{\y}}
\foreach \x/\y in {413/202,468/202,600/202,854/203,903/203,140/263,218/263,393/263,433/263,453/263,492/263,518/263,532/263,550/263,590/263,629/263,648/263,668/263,727/264,844/264,199/326,287/326,383/326,404/326,
610/557,257/619,277/619,337/619,355/619,375/619,393/619,105/681,492/681,513/681,532/681,
590/913,668/913,189/974,228/974,247/974,443/974,483/974}{\pdM{\x}{\y}}
\fill[epc] (706,557.5) rectangle (712,560);
\node[crc, fill=fgreen, minimum size=27pt] (gstar) at (179,248) {};
\draw[-{Triangle[length=5pt,width=5pt]}, line width=1.4pt, black!75] (344,132) -- (357,146);
% ===== legend =====
\node[draw, line width=0.6pt, minimum width=175pt, minimum height=30pt, inner sep=0pt, font=\fontsize{16.2}{18}\selectfont] (lgb) at (448,1177) {Pedigree legend};
\node[lc] (lmale) at (30,1210) {Male};
\node[lc] (lfem) at (78,1210) {Female};
\node[qm, minimum size=13pt] (ls1) at (28,1237) {};
\node[qf, minimum size=13pt] (lc1) at (70,1237) {};
\node[lc] (ls1n) at (34,1223) {1};
\node[lc] (lc1n) at (75,1223) {2};
\node[lc] (ls1a) at (28,1253) {28};
\node[lc] (lc1a) at (70,1253) {33};
\node[lt] (lt1) at (112,1224) {Individual number};
\node[lt] (lt2) at (112,1237) {Unaffected};
\node[lt] (lt3) at (112,1251) {Current age};
\node[qM, minimum size=14pt] (ls2) at (28,1278) {};
\node[qF, minimum size=14pt] (lc2) at (70,1278) {};
\node[lc] (ls2a) at (26,1296) {Lue53};
\node[lc] (ls2b) at (26,1309) {55};
\node[lc] (lc2a) at (70,1296) {Br45};
\node[lc] (lc2b) at (70,1309) {47};
\node[lt] (lt4) at (112,1281) {Cancer by pathology,};
\node[lt] (lt5) at (112,1295) {age at diagnosis};
\node[lt] (lt6) at (112,1308) {Current age};
\node[qm, minimum size=14pt, path picture={\fill[black] ([xshift=-4.5pt]path picture bounding box.north) rectangle ([xshift=-2pt]path picture bounding box.south) ([xshift=-0.8pt]path picture bounding box.north) rectangle ([xshift=1.7pt]path picture bounding box.south);}] (ls3) at (28,1328) {};
\node[qf, minimum size=14pt, path picture={\fill[black] ([xshift=-1.3pt]path picture bounding box.north) rectangle ([xshift=1.3pt]path picture bounding box.south);}] (lc3) at (70,1328) {};
\draw[line width=0.5pt] ([shift={(-2pt,-2pt)}]ls3.south west) -- ([shift={(4pt,4pt)}]ls3.north east);
\draw[line width=0.5pt] ([shift={(-2pt,-2pt)}]lc3.south west) -- ([shift={(4pt,4pt)}]lc3.north east);
\node[lc] (ls3a) at (24,1348) {d.54};
\node[lc] (lc3a) at (70,1348) {d.86};
\node[lt] (lt7) at (112,1332) {Cancer by family history,};
\node[lt] (lt8) at (112,1345) {age at death};
% middle legend
\node[qm, minimum size=13pt, fill=gray!25] (lm1) at (323,1225) {};
\node[star, star points=5, draw, line width=0.3pt, minimum size=8pt, inner sep=0pt] (lm1s) at (lm1) {};
\node[qf, minimum size=13pt, fill=gray!15] (lm2) at (366,1225) {};
\node[star, star points=5, draw, line width=0.3pt, minimum size=8pt, inner sep=0pt] (lm2s) at (lm2) {};
\node[qM, minimum size=13pt] (lm3) at (323,1264) {};
\node[star, star points=5, fill=white, minimum size=8pt, inner sep=0pt] (lm3s) at (lm3) {};
\node[qF, minimum size=13pt] (lm4) at (366,1264) {};
\node[star, star points=5, fill=white, minimum size=8pt, inner sep=0pt] (lm4s) at (lm4) {};
\node[qM, minimum size=13pt, path picture={\draw[white, line width=1.6pt] (path picture bounding box.north) -- (path picture bounding box.south) (path picture bounding box.west) -- (path picture bounding box.east);}] (lm5) at (323,1298) {};
\node[qf, minimum size=13pt, path picture={\draw[black, line width=1.6pt] (path picture bounding box.north) -- (path picture bounding box.south) (path picture bounding box.west) -- (path picture bounding box.east);}] (lm6) at (366,1298) {};
\node[draw, line width=0.6pt, minimum size=13pt, inner sep=0pt, font=\fontsize{8}{9}\selectfont] (lm7) at (326,1335) {4};
\node[draw, circle, line width=0.5pt, minimum size=12pt, inner sep=0pt, font=\fontsize{8}{9}\selectfont] (lm8) at (369,1335) {3};
\node[lt] (lm1t) at (402,1223) {Multiple primary cancers by};
\node[lt] (lm2t) at (402,1237) {medical records or death certificates};
\node[lt] (lm3t) at (402,1264) {Multiple primary cancers by pathology};
\node[lt] (lm4t) at (402,1293) {Cancer by death certificate or};
\node[lt] (lm5t) at (402,1307) {medical records};
\node[lt] (lm6t) at (402,1333) {Number of unaffected progeny};
\node[lt] (lm7t) at (402,1347) {(both sexes)};
% right legend
\draw[-{Triangle[length=5pt,width=5pt]}, line width=1.5pt, black!80] (690,1212) -- (702,1224);
\node[lt] (lprob) at (763,1218) {Proband};
\node[qf, minimum size=14pt, draw=black!70] (ltw1) at (677,1259) {};
\node[qf, minimum size=14pt, draw=black!70] (ltw2) at (719,1259) {};
\draw[line width=0.9pt] (ltw1.north) -- (698,1238) -- (ltw2.north);
\node[lt] (ltwt) at (763,1260) {Twins};
\node[crc, fill=fgreen, minimum size=16pt] (lgs) at (677,1291) {};
\node[lt, font=\fontsize{14}{16}\selectfont] (lgst) at (687,1291) {First patient identified with \textit{EPCAM} mutation};
\node[crc, minimum size=16pt] (lrs) at (677,1322) {};
\node[lt, font=\fontsize{14}{16}\selectfont] (lrst) at (687,1322) {CRC affected};
\draw[epc, line width=1.3pt] (669,1343) -- (685,1343) (677,1335) -- (677,1351);
\fill[epc] (669,1352) rectangle (685,1355);
\node[lt, font=\fontsize{14}{16}\selectfont\itshape] (lept) at (687,1344) {EPCAM};
\end{tikzpicture}
\end{document}
